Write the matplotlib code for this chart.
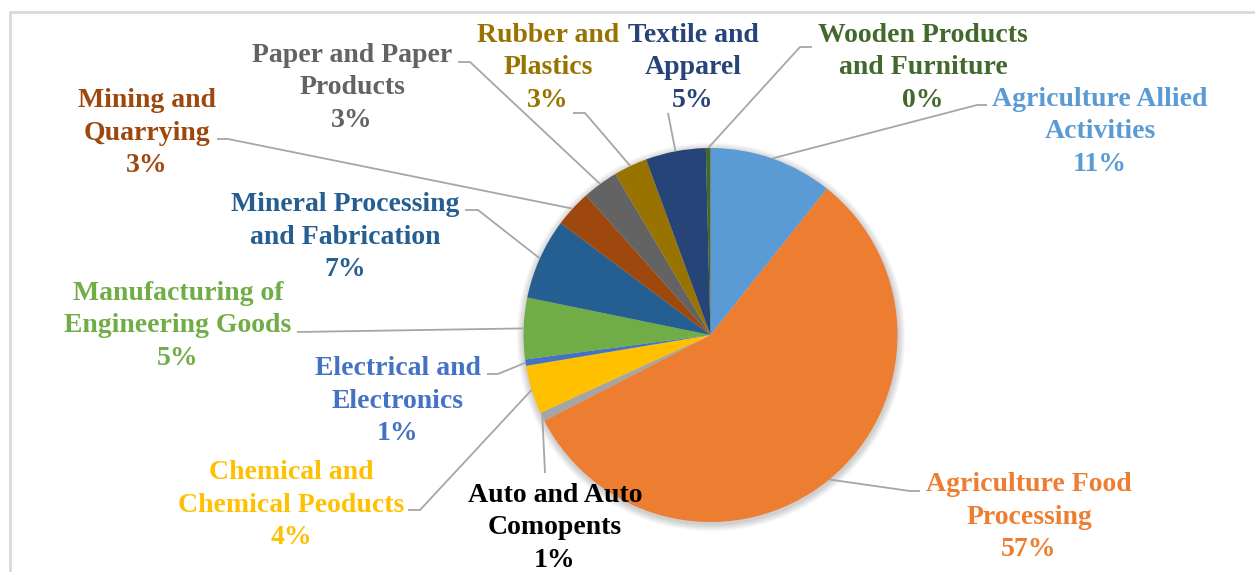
import numpy as np
import matplotlib
matplotlib.use("Agg")
import matplotlib.pyplot as plt
from matplotlib.patches import Circle, Rectangle

# ---- data ----
categories = [
    "Agriculture Allied\nActivities",
    "Agriculture Food\nProcessing",
    "Auto and Auto\nComopents",
    "Chemical and\nChemical Peoducts",
    "Electrical and\nElectronics",
    "Manufacturing of\nEngineering Goods",
    "Mineral Processing\nand Fabrication",
    "Mining and\nQuarrying",
    "Paper and Paper\nProducts",
    "Rubber and\nPlastics",
    "Textile and\nApparel",
    "Wooden Products\nand Furniture",
]
shares = [10.7, 56.75, 0.75, 4.2, 0.55, 5.3, 7.0, 3.2, 3.1, 2.9, 5.2, 0.4]
slice_colors = ["#5B9BD5", "#ED7D31", "#A5A5A5", "#FFC000", "#4472C4", "#70AD47",
                "#255E91", "#9E480E", "#636363", "#997300", "#264478", "#43682B"]
label_colors = ["#5B9BD5", "#ED7D31", "#000000", "#FFC000", "#4472C4", "#70AD47",
                "#255E91", "#9E480E", "#636363", "#997300", "#264478", "#43682B"]

# ---- layout (pixel coordinates, y downwards) ----
W, H = 1255, 572
cx, cy, R = 710.5, 335, 187
label_pos = [(1100, 132), (1029, 517), (555, 528), (291, 505), (398, 401), (178, 326),
             (345, 237), (147, 133), (352, 88), (548, 68), (693, 68), (923, 68)]
# leader line: (elbow point, end point) in pixels
leaders = [
    [(977, 105), (987, 105)],
    [(910, 491), (920, 491)],
    [(545, 473), (545, 473)],
    [(420, 510), (408, 510)],
    [(498, 374), (487, 374)],
    [(297, 332), (297, 332)],
    [(478, 210), (465, 210)],
    [(228, 139), (217, 139)],
    [(470, 62), (458, 62)],
    [(585, 113), (573, 113)],
    [(668, 113), (668, 113)],
    [(800, 47), (812, 47)],
]

fig = plt.figure(figsize=(W / 100, H / 100), dpi=100)
ax = fig.add_axes([0, 0, 1, 1])

def Y(py):
    return H - py

# frame
ax.add_patch(Rectangle((10, -10), W + 20, Y(11.5) + 10, fill=False,
                       edgecolor="#D9D9D9", linewidth=2, zorder=0))

# soft shadow
for k in range(8):
    ax.add_patch(Circle((cx + 0.5, Y(cy + 2)), R + 1 + k * 0.9, color="#000000",
                        alpha=0.025, lw=0, zorder=1))

wedges, _ = ax.pie(shares, colors=slice_colors, startangle=90, counterclock=False,
                   center=(cx, Y(cy)), radius=R, frame=True,
                   wedgeprops=dict(linewidth=0, zorder=2))
ax.set_xlim(0, W)
ax.set_ylim(0, H)
ax.axis("off")

total = sum(shares)
font = ["Liberation Serif", "DejaVu Serif"]
for i, w in enumerate(wedges):
    mid = np.deg2rad((w.theta1 + w.theta2) / 2)
    sx = cx + R * np.cos(mid)
    sy = Y(cy) + R * np.sin(mid)
    (ex, ey), (fx, fy) = leaders[i]
    ax.plot([sx, ex, fx], [sy, Y(ey), Y(fy)], color="#A6A6A6", lw=1.3, zorder=3,
            solid_capstyle="butt")
    pct = round(shares[i] / total * 100)
    lx, ly = label_pos[i]
    ax.text(lx, Y(ly), f"{categories[i]}\n{pct:.0f}%", ha="center", va="center",
            multialignment="center", color=label_colors[i], fontsize=20,
            fontweight="bold", family=font, linespacing=1.38, zorder=4)

fig.savefig("out.png", dpi=100)
